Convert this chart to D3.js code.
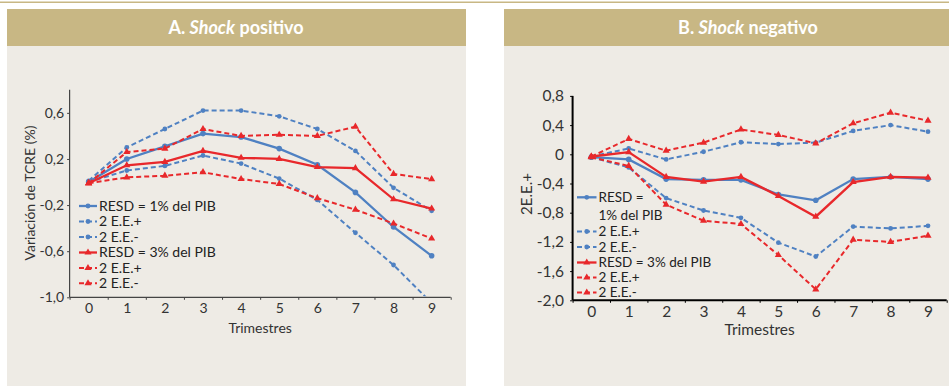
<!DOCTYPE html>
<html>
<head>
<meta charset="utf-8">
<script src="https://cdn.jsdelivr.net/npm/d3@7"></script>
<style>
  body { margin: 0; background: #fff; }
  text { font-family: Lato, "Open Sans", sans-serif; }
</style>
</head>
<body>
<svg id="chart" width="949" height="388"></svg>
<script>
// trimestres 0..9
const quarters = [0, 1, 2, 3, 4, 5, 6, 7, 8, 9]

// Panel A: shock positivo
const posBlue = [0.0, 0.2, 0.31, 0.42, 0.39, 0.29, 0.15, -0.09, -0.39, -0.64]
const posBlueUp = [0.01, 0.30, 0.46, 0.62, 0.62, 0.57, 0.46, 0.27, -0.05, -0.25]
const posBlueLo = [0.0, 0.10, 0.14, 0.23, 0.16, 0.03, -0.155, -0.44, -0.72, -1.05]
const posRed = [-0.01, 0.145, 0.175, 0.27, 0.21, 0.20, 0.13, 0.12, -0.15, -0.23]
const posRedUp = [-0.01, 0.26, 0.29, 0.46, 0.40, 0.41, 0.40, 0.48, 0.07, 0.025]
const posRedLo = [-0.01, 0.04, 0.055, 0.085, 0.026, -0.017, -0.14, -0.24, -0.36, -0.49]

// Panel B: shock negativo
const negBlue = [-0.04, -0.07, -0.34, -0.35, -0.35, -0.55, -0.63, -0.34, -0.31, -0.34]
const negBlueUp = [-0.03, 0.08, -0.07, 0.035, 0.165, 0.14, 0.16, 0.32, 0.40, 0.31]
const negBlueLo = [-0.04, -0.18, -0.60, -0.77, -0.87, -1.21, -1.40, -0.99, -1.015, -0.98]
const negRed = [-0.03, 0.03, -0.31, -0.375, -0.31, -0.57, -0.855, -0.38, -0.31, -0.32]
const negRedUp = [-0.03, 0.21, 0.05, 0.16, 0.34, 0.265, 0.15, 0.425, 0.57, 0.46]
const negRedLo = [-0.04, -0.16, -0.69, -0.91, -0.955, -1.38, -1.85, -1.17, -1.20, -1.115]

const yTicksA = [-1.0, -0.6, -0.2, 0.2, 0.6]
const yTicksB = [-2.0, -1.6, -1.2, -0.8, -0.4, 0, 0.4, 0.8]

const legendA = ['RESD = 1% del PIB', '2 E.E.+', '2 E.E.-', 'RESD = 3% del PIB', '2 E.E.+', '2 E.E.-']
const legendB = ['RESD =', '2 E.E.+', '2 E.E.-', 'RESD = 3% del PIB', '2 E.E.+', '2 E.E.-']

const blue = '#4f81c2'
const red = '#e8282b'
const tan = '#c8b784'
const panelBg = '#eeebe5'

const fmt = v => v === 0 ? '0' : d3.format('.1f')(v).replace('.', ',').replace('−', '-')

const svg = d3.select('#chart')

// top rule
svg.append('rect').attr('x', 0).attr('y', 1.5).attr('width', 949).attr('height', 1.5).attr('fill', tan)

function panel(opt) {
    let g = svg.append('g')

    g.append('rect')
        .attr('x', opt.px).attr('y', 9)
        .attr('width', opt.pw).attr('height', 377)
        .attr('fill', panelBg)
    g.append('rect')
        .attr('x', opt.px).attr('y', 9)
        .attr('width', opt.pw).attr('height', 37)
        .attr('fill', tan)

    let title = g.append('text')
        .attr('x', opt.titleX).attr('y', 33.5)
        .attr('text-anchor', 'middle')
        .style('font-size', '18px')
        .style('font-weight', 'bold')
        .attr('fill', '#fff')
    title.append('tspan').text(opt.letter + ' ')
    title.append('tspan').style('font-style', 'italic').text('Shock')
    title.append('tspan').text(' ' + opt.word)

    let x = d3.scaleLinear().domain([-0.5, 9.5]).range(opt.xr)
    let y = d3.scaleLinear().domain(opt.yd).range(opt.yr)
    let fs = opt.fs

    // y axis
    let ya = g.append('g')
        .attr('transform', `translate(${opt.xr[0]},0)`)
        .call(d3.axisLeft(y).tickValues(opt.yTicks).tickSize(2.5).tickPadding(opt.yPad).tickFormat(fmt))
    ya.select('.domain').attr('stroke', opt.axisColor).attr('stroke-width', opt.axisW)
        .attr('d', `M0,${opt.yr[1]}V${opt.yr[0]}`)
    ya.selectAll('.tick line').attr('stroke', opt.axisColor)
    ya.selectAll('.tick text').style('font-size', fs + 'px').attr('fill', '#333')

    // x axis: labels at centre, ticks at boundaries
    let xl = g.append('g')
        .attr('transform', `translate(0,${opt.yr[0]})`)
        .call(d3.axisBottom(x).tickValues(quarters).tickSize(0).tickPadding(opt.xPad).tickFormat(d3.format('d')))
    xl.select('.domain').remove()
    xl.selectAll('.tick text').style('font-size', fs + 'px').attr('fill', '#333')

    let xt = g.append('g')
        .attr('transform', `translate(0,${opt.yr[0]})`)
        .call(d3.axisBottom(x).tickValues(d3.range(-0.5, 10, 1)).tickSize(2.5).tickFormat(''))
    xt.select('.domain').attr('stroke', opt.axisColor).attr('stroke-width', opt.axisW)
        .attr('d', `M${opt.xr[0]},0H${opt.xr[1]}`)
    xt.selectAll('.tick line').attr('stroke', opt.axisColor)

    g.append('text')
        .attr('x', (opt.xr[0] + opt.xr[1]) / 2).attr('y', opt.yr[0] + opt.xTitleDy)
        .attr('text-anchor', 'middle')
        .style('font-size', fs + 'px').attr('fill', '#333')
        .text('Trimestres')

    g.append('text')
        .attr('transform', `translate(${opt.yTitle[0]},${opt.yTitle[1]}) rotate(-90)`)
        .attr('text-anchor', 'middle')
        .style('font-size', opt.yTitleFs + 'px').attr('fill', '#333')
        .text(opt.yLabel)

    // clip
    let clipId = 'clip' + opt.letter.replace('.', '')
    g.append('clipPath').attr('id', clipId)
        .append('rect')
        .attr('x', opt.xr[0]).attr('y', opt.yr[1] - 5)
        .attr('width', opt.xr[1] - opt.xr[0]).attr('height', opt.yr[0] - opt.yr[1] + 4)

    let plot = g.append('g').attr('clip-path', `url(#${clipId})`)

    let line = d3.line().x((d, i) => x(quarters[i])).y(d => y(d))
    let tri = d3.symbol().type(d3.symbolTriangle).size(22)

    opt.series.forEach(s => {
        plot.append('path')
            .datum(s.values)
            .attr('d', line)
            .attr('fill', 'none')
            .attr('stroke', s.color)
            .attr('stroke-width', s.dash ? 2 : 2.3)
            .attr('stroke-dasharray', s.dash ? '5,3' : null)

        let pts = plot.append('g').selectAll('.pt')
            .data(s.values.filter(v => v >= opt.yd[0]))
            .enter()
        if (s.marker === 'circle') {
            pts.append('circle')
                .attr('cx', (d, i) => x(quarters[i]))
                .attr('cy', d => y(d))
                .attr('r', s.dash ? 2.4 : 2.8)
                .attr('fill', s.color)
        } else {
            pts.append('path')
                .attr('d', tri)
                .attr('transform', (d, i) => `translate(${x(quarters[i])},${y(d)})`)
                .attr('fill', s.color)
        }
    })

    // legend
    let lg = g.append('g')
    opt.legend.forEach((name, i) => {
        let s = opt.series[i]
        let ly = opt.legendY[i]
        lg.append('line')
            .attr('x1', opt.legX[0]).attr('x2', opt.legX[1])
            .attr('y1', ly).attr('y2', ly)
            .attr('stroke', s.color)
            .attr('stroke-width', s.dash ? 2 : 2.3)
            .attr('stroke-dasharray', s.dash ? '5,3' : null)
        let mx = (opt.legX[0] + opt.legX[1]) / 2
        if (s.marker === 'circle') {
            lg.append('circle').attr('cx', mx).attr('cy', ly).attr('r', 2.4).attr('fill', s.color)
        } else {
            lg.append('path').attr('d', tri).attr('transform', `translate(${mx},${ly})`).attr('fill', s.color)
        }
        lg.append('text')
            .attr('x', opt.legX[1] + 2).attr('y', ly)
            .attr('dy', '0.35em')
            .style('font-size', opt.legFs + 'px').attr('fill', '#222')
            .text(name)
    })
    if (opt.extraLegend) {
        lg.append('text')
            .attr('x', opt.legX[1] + 2).attr('y', opt.extraLegend[1])
            .attr('dy', '0.35em')
            .style('font-size', opt.legFs + 'px').attr('fill', '#222')
            .text(opt.extraLegend[0])
    }
}

panel({
    letter: 'A.', word: 'positivo',
    px: 7, pw: 459, titleX: 236,
    xr: [69.6, 450.7], yd: [-1.0, 0.8], yr: [297.3, 89.8],
    yTicks: yTicksA, fs: 14, legFs: 14, yPad: 3, xPad: 6, xTitleDy: 35.5,
    axisColor: '#444', axisW: 1.2,
    yLabel: 'Variación de TCRE (%)', yTitle: [35, 193], yTitleFs: 14,
    series: [
        {values: posBlue, color: blue, dash: false, marker: 'circle'},
        {values: posBlueUp, color: blue, dash: true, marker: 'circle'},
        {values: posBlueLo, color: blue, dash: true, marker: 'circle'},
        {values: posRed, color: red, dash: false, marker: 'tri'},
        {values: posRedUp, color: red, dash: true, marker: 'tri'},
        {values: posRedLo, color: red, dash: true, marker: 'tri'},
    ],
    legend: legendA,
    legendY: [206, 221.5, 237, 252.5, 268, 283.3],
    legX: [79, 97],
})

panel({
    letter: 'B.', word: 'negativo',
    px: 504, pw: 445, titleX: 748,
    xr: [572.6, 946.7], yd: [-2.0, 0.8], yr: [300.3, 95.9],
    yTicks: yTicksB, fs: 15.5, legFs: 13.5, yPad: 6, xPad: 5.4, xTitleDy: 34.7,
    axisColor: '#000', axisW: 2,
    yLabel: '2E.E.+', yTitle: [532, 194], yTitleFs: 15,
    series: [
        {values: negBlue, color: blue, dash: false, marker: 'circle'},
        {values: negBlueUp, color: blue, dash: true, marker: 'circle'},
        {values: negBlueLo, color: blue, dash: true, marker: 'circle'},
        {values: negRed, color: red, dash: false, marker: 'tri'},
        {values: negRedUp, color: red, dash: true, marker: 'tri'},
        {values: negRedLo, color: red, dash: true, marker: 'tri'},
    ],
    legend: legendB,
    legendY: [197.3, 231.5, 247, 262.5, 277.5, 292.5],
    legX: [577, 596.5],
    extraLegend: ['1% del PIB', 215],
})
</script>
</body>
</html>
